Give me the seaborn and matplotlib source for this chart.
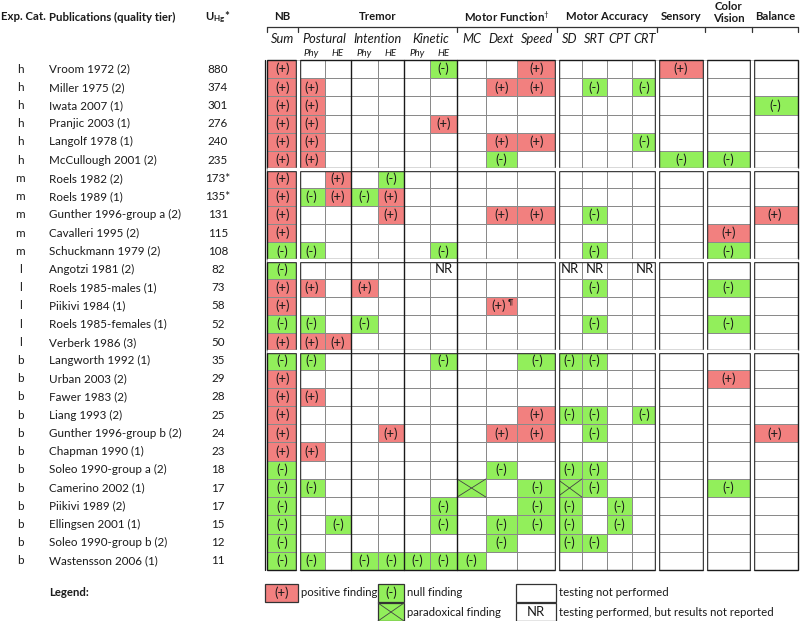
import matplotlib.pyplot as plt
import seaborn as sns
import numpy as np
import pandas as pd
from matplotlib.colors import ListedColormap
from matplotlib.patches import Rectangle

sns.set_theme(style="white")
plt.rcParams['font.family'] = ['Lato', 'DejaVu Sans']
plt.rcParams['mathtext.fontset'] = 'custom'
plt.rcParams['mathtext.rm'] = 'Lato'
plt.rcParams['mathtext.bf'] = 'Lato:bold'
plt.rcParams['mathtext.it'] = 'Lato:italic'

exp_cat = ['h'] * 6 + ['m'] * 5 + ['l'] * 5 + ['b'] * 12
publications = ['Vroom 1972 (2)', 'Miller 1975 (2)', 'Iwata 2007 (1)', 'Pranjic 2003 (1)',
                'Langolf 1978 (1)', 'McCullough 2001 (2)', 'Roels 1982 (2)', 'Roels 1989 (1)',
                'Gunther 1996-group a (2)', 'Cavalleri 1995 (2)', 'Schuckmann 1979 (2)',
                'Angotzi 1981 (2)', 'Roels 1985-males (1)', 'Piikivi 1984 (1)',
                'Roels 1985-females (1)', 'Verberk 1986 (3)', 'Langworth 1992 (1)',
                'Urban 2003 (2)', 'Fawer 1983 (2)', 'Liang 1993 (2)', 'Gunther 1996-group b (2)',
                'Chapman 1990 (1)', 'Soleo 1990-group a (2)', 'Camerino 2002 (1)',
                'Piikivi 1989 (2)', 'Ellingsen 2001 (1)', 'Soleo 1990-group b (2)',
                'Wastensson 2006 (1)']
u_hg = ['880', '374', '301', '276', '240', '235', '173*', '135*', '131', '115', '108',
        '82', '73', '58', '52', '50', '35', '29', '28', '25', '24', '23', '18', '17',
        '17', '15', '12', '11']
test_columns = ['Sum', 'Postural Phy', 'Postural HE', 'Intention Phy', 'Intention HE',
                'Kinetic Phy', 'Kinetic HE', 'MC', 'Dext', 'Speed', 'SD', 'SRT', 'CPT',
                'CRT', 'Sensory', 'Color Vision', 'Balance']
# one char per test column: + positive, - null, x paradoxical, N not reported,
# P positive with footnote, . not performed
findings = [
    '+.....-..+....+..',
    '++......++.-.-...',
    '++..............-',
    '++....+..........',
    '++......++...-...',
    '++......-.....--.',
    '+.+.-............',
    '+-+-+............',
    '+...+...++.-....+',
    '+..............+.',
    '--....-....-...-.',
    '-.....N...NN.N...',
    '++.+.......-...-.',
    '+.......P........',
    '--.-.......-...-.',
    '+++..............',
    '--....-..---.....',
    '+..............+.',
    '++...............',
    '+........+--.-...',
    '+...+...++.-....+',
    '++...............',
    '-.......-.--.....',
    '--.....x.-x-...-.',
    '-.....-..--.-....',
    '-.-...-.---.-....',
    '-.......-.--.....',
    '--.-----.........',
]

# ---- layout ----
W, H = 800, 621
col_px = [267, 298, 325, 351, 378, 404, 430, 457, 486, 517, 557, 582, 607, 632, 657, 705, 752, 798]
TOP, BOTTOM = 60, 570
n_rows = len(publications)
row_h = (BOTTOM - TOP) / n_rows
RED = '#f2807f'
GREEN = '#92ef5b'
INK = '#1a1a1a'

code_value = {'.': 0, 'N': 0, '+': 1, 'P': 1, '-': 2, 'x': 2}
code_label = {'.': '', 'N': 'NR', '+': '(+)', 'P': '', '-': '(-)', 'x': ''}
df = pd.DataFrame([[code_value[c] for c in r] for r in findings],
                  index=publications, columns=test_columns)
labels = np.array([[code_label[c] for c in r] for r in findings])

fig = plt.figure(figsize=(W / 100, H / 100), dpi=100)
ax = fig.add_axes([col_px[0] / W, 1 - BOTTOM / H, (col_px[-1] - col_px[0]) / W, (BOTTOM - TOP) / H])
sns.heatmap(df, ax=ax, cmap=ListedColormap(['white', RED, GREEN]), vmin=-0.5, vmax=2.5,
            cbar=False, annot=labels, fmt='', annot_kws={'fontsize': 9.4, 'color': INK},
            linewidths=0.6, linecolor='#8a8a8a', xticklabels=False, yticklabels=False)

# unequal column widths
edges = np.arange(len(col_px))
ax.set_xscale('function', functions=(lambda x: np.interp(x, edges, col_px),
                                     lambda p: np.interp(p, col_px, edges)))
ax.set_xlim(0, len(test_columns))
ax.set_xticks([])
ax.set_yticks([])
ax.set_xlabel('')
ax.set_ylabel('')

for i, r in enumerate(findings):
    for j, c in enumerate(r):
        if c == 'x':
            ax.plot([j, j + 1], [i, i + 1], color='#444444', lw=0.6)
            ax.plot([j, j + 1], [i + 1, i], color='#444444', lw=0.6)
        if c == 'P':
            # positive finding with footnote mark
            ax.text(j + 0.42, i + 0.5, '(+)', fontsize=9.4, color=INK, ha='center', va='center')
            ax.text(j + 0.8, i + 0.3, '\u00b6', fontsize=5.5, color=INK, ha='center', va='center')

# overlay in pixel coordinates for rules, headers and legend
ov = fig.add_axes([0, 0, 1, 1])
ov.set_xlim(0, W)
ov.set_ylim(H, 0)
ov.axis('off')


def row_y(r):
    return TOP + r * row_h


x_blocks = [0, 1, 10, 14, 15, 16, 17]
y_blocks = [0, 6, 11, 16, 28]
gap = 1.6
for k in x_blocks[1:-1]:
    ov.plot([col_px[k], col_px[k]], [TOP, BOTTOM], color='white', lw=2.4, solid_capstyle='butt')
for r in y_blocks[1:-1]:
    ov.plot([col_px[0], col_px[-1]], [row_y(r), row_y(r)], color='white', lw=2.4, solid_capstyle='butt')
for k in [3, 5, 7]:
    ov.plot([col_px[k], col_px[k]], [TOP, BOTTOM], color=INK, lw=1.0)
for a, b in zip(x_blocks[:-1], x_blocks[1:]):
    x0 = col_px[a] + (gap if a != 0 else 0)
    x1 = col_px[b] - (gap if b != x_blocks[-1] else 0)
    for ra, rb in zip(y_blocks[:-1], y_blocks[1:]):
        y0 = row_y(ra) + (gap if ra != 0 else 0)
        y1 = row_y(rb) - (gap if rb != y_blocks[-1] else 0)
        ov.add_patch(Rectangle((x0, y0), x1 - x0, y1 - y0, fill=False, ec=INK, lw=1.0))
ov.plot([col_px[0] - 2.2] * 2, [TOP, BOTTOM], color=INK, lw=0.9)

# header rule with ticks
ov.plot([col_px[0], col_px[-1]], [27, 27], color='#333333', lw=0.9)
for k in [0, 1, 7, 10, 14, 15, 16, 17]:
    ov.plot([col_px[k], col_px[k]], [27, 32], color='#333333', lw=0.9)

hdr = dict(fontsize=8.2, fontweight='bold', color=INK, va='center')
ov.text(1, 17, 'Exp. Cat.', ha='left', **hdr)
ov.text(49, 17, 'Publications (quality tier)', ha='left', **hdr)
ov.text(218, 17, r'U$_{\mathbf{Hg}}$*', ha='center', **hdr)

groups = [('NB', 0, 1), ('Tremor', 1, 7), (r'Motor Function$^{\dagger}$', 7, 10),
          ('Motor Accuracy', 10, 14), ('Sensory', 14, 15), ('Color\nVision', 15, 16),
          ('Balance', 16, 17)]
for name, a, b in groups:
    y = 12.5 if '\n' in name else 17
    ov.text((col_px[a] + col_px[b]) / 2, y, name, ha='center', linespacing=1.1, **hdr)

subs = [('Sum', 0, 1), ('Postural', 1, 3), ('Intention', 3, 5), ('Kinetic', 5, 7),
        ('MC', 7, 8), ('Dext', 8, 9), ('Speed', 9, 10), ('SD', 10, 11), ('SRT', 11, 12),
        ('CPT', 12, 13), ('CRT', 13, 14)]
for name, a, b in subs:
    ov.text((col_px[a] + col_px[b]) / 2, 39, name, ha='center', va='center',
            fontsize=9.2, style='italic', color=INK)
for k in range(1, 7):
    ov.text((col_px[k] + col_px[k + 1]) / 2, 53, test_columns[k].split()[-1], ha='center',
            va='center', fontsize=7, style='italic', color=INK)

for i in range(n_rows):
    y = row_y(i + 0.5)
    ov.text(20, y, exp_cat[i], ha='center', va='center', fontsize=8.4, color=INK)
    ov.text(49, y, publications[i], ha='left', va='center', fontsize=8.4, color=INK)
    ov.text(218, y, u_hg[i], ha='center', va='center', fontsize=8.4, color=INK)

# legend
ov.text(49, 593, 'Legend:', ha='left', **hdr)
leg = [(265, 298, 584, RED, '(+)', 'positive finding'),
       (378, 404, 584, GREEN, '(-)', 'null finding'),
       (378, 404, 603, GREEN, 'x', 'paradoxical finding'),
       (516, 556, 584, 'white', '', 'testing not performed'),
       (516, 556, 603, 'white', 'NR', 'testing performed, but results not reported')]
for x0, x1, y0, fc, mark, txt in leg:
    ov.add_patch(Rectangle((x0, y0), x1 - x0, 18, fc=fc, ec='#333333', lw=0.9))
    if mark == 'x':
        ov.plot([x0, x1], [y0, y0 + 18], color='#444444', lw=0.6)
        ov.plot([x0, x1], [y0 + 18, y0], color='#444444', lw=0.6)
    elif mark:
        ov.text((x0 + x1) / 2, y0 + 9, mark, ha='center', va='center', fontsize=9.4, color=INK)
    ov.text(x1 + 3, y0 + 9, txt, ha='left', va='center', fontsize=8.2, color=INK)

fig.savefig('out.png', dpi=100)
